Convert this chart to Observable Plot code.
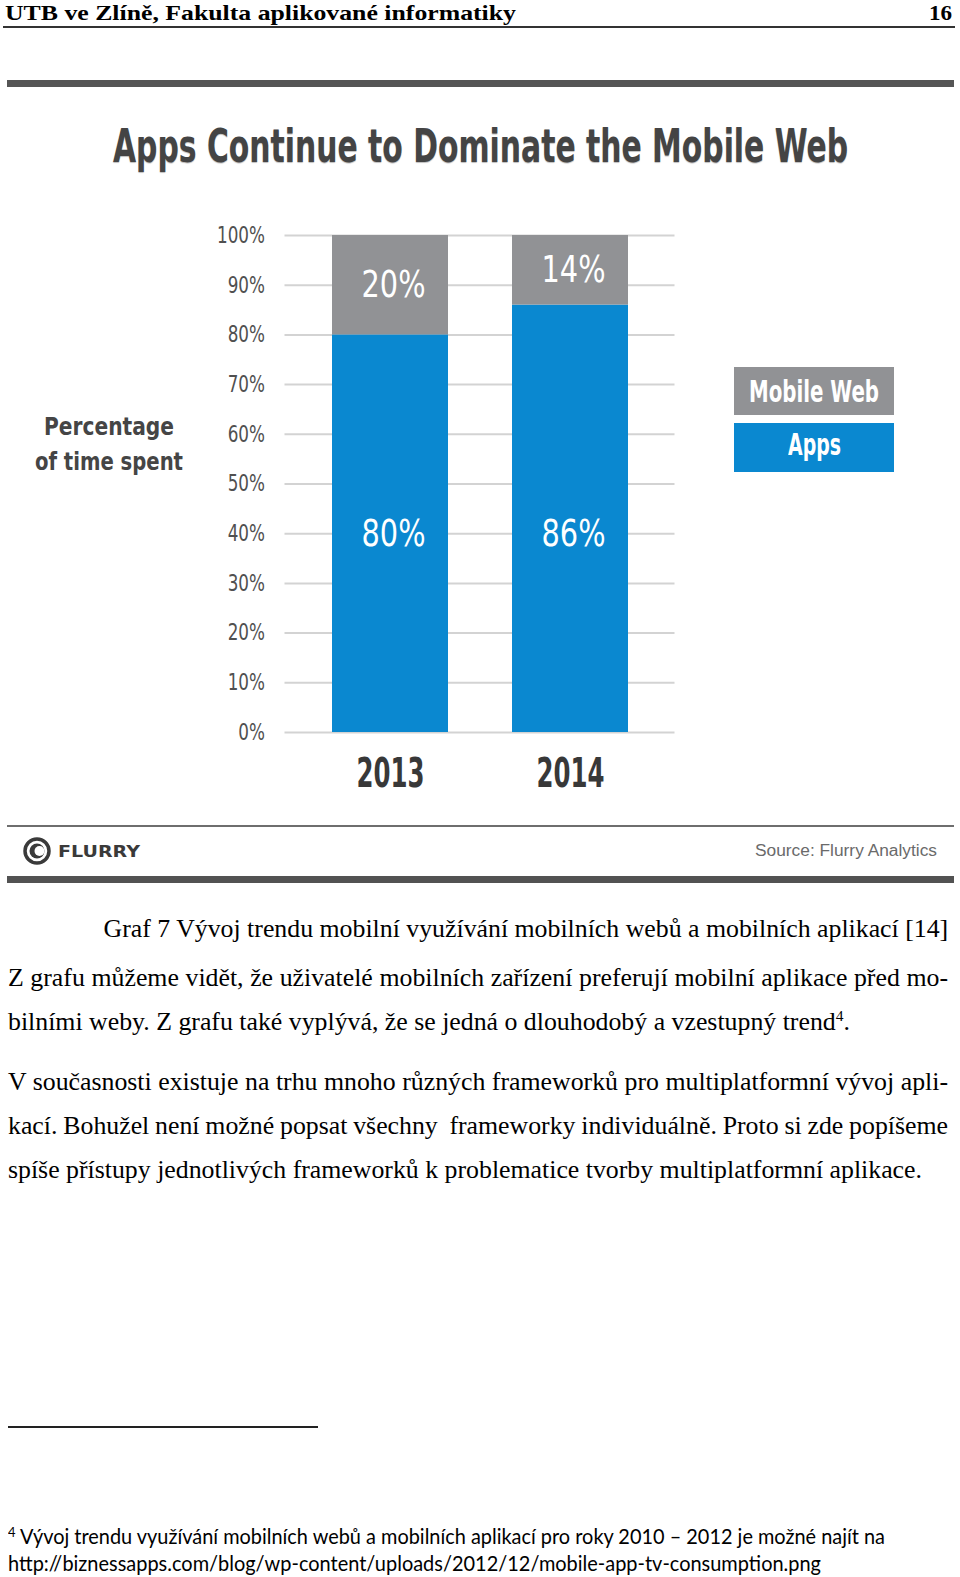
<!DOCTYPE html>
<html>
<head>
<meta charset="utf-8">
<script src="https://cdn.jsdelivr.net/npm/d3@7"></script>
<script src="https://cdn.jsdelivr.net/npm/@observablehq/plot@0.6"></script>
<style>
  html, body { margin: 0; padding: 0; background: #fff; }
  #page { position: relative; width: 960px; height: 1577px; overflow: hidden; background: #fff; }
  .bar { position: absolute; }
  #chart { position: absolute; left: 0; top: 190px; }
</style>
</head>
<body>
<div id="page"></div>
<script>
// ---------- data ----------
const years = ["2013", "2014"];
const series = ["Apps", "Mobile Web"];
const appsShare = [80, 86];
const webShare = [20, 14];
const yTicks = [0, 10, 20, 30, 40, 50, 60, 70, 80, 90, 100];
const seriesColors = ["#0a88d0", "#919295"];
const appsLabelAt = 40;

const chartTitle = "Apps Continue to Dominate the Mobile Web";
const yTitle = ["Percentage", "of time spent"];
const sourceText = "Source: Flurry Analytics";

// ---------- helpers ----------
const page = document.getElementById("page");

function place(o) {
  const el = document.createElement("div");
  el.style.cssText = `position:absolute;white-space:nowrap;line-height:1;left:0;top:0;` +
    `font-family:${o.font};font-size:${o.size}px;font-weight:${o.weight || 400};color:${o.color || "#000"};` +
    (o.extra || "");
  el.innerHTML = o.html + '<i style="display:inline-block;width:0;height:0;vertical-align:baseline"></i>';
  page.appendChild(el);
  const marker = el.lastChild;
  const base = marker.offsetTop;
  const w = el.getBoundingClientRect().width;
  let finalW = w;
  if (o.justify) {
    const n = (el.textContent.match(/[ \u00a0]/g) || []).length;
    if (n > 0) el.style.wordSpacing = ((o.width - w) / n) + "px";
    finalW = o.width;
  } else if (o.width) {
    el.style.transformOrigin = "0 0";
    el.style.transform = `scaleX(${o.width / w})`;
    finalW = o.width;
  }
  const left = o.left != null ? o.left : (o.right != null ? o.right - finalW : o.center - finalW / 2);
  el.style.left = left + "px";
  el.style.top = Math.max(0, o.baseline - base) + "px";
  return { el, w };
}
function rule(left, top, width, height, color) {
  const d = document.createElement("div");
  d.className = "bar";
  d.style.cssText = `left:${left}px;top:${top}px;width:${width}px;height:${height}px;background:${color};`;
  page.appendChild(d);
  return d;
}

// ---------- page header ----------
const serif = "'Liberation Serif', 'Times New Roman', serif";
place({ html: "UTB ve Zlíně, Fakulta aplikované informatiky", font: serif, size: 22, weight: 700, left: 5, baseline: 20, width: 511 });
place({ html: "16", font: serif, size: 22, weight: 700, right: 952, baseline: 20, width: 23 });
rule(3, 26, 952, 1.5, "#333");

// ---------- chart frame ----------
rule(7, 80, 947, 7, "#555");
const cond = "'DejaVu Sans Condensed', 'DejaVu Sans', sans-serif";
place({ html: chartTitle, font: cond, size: 46, weight: 700, color: "#444", left: 112.6, baseline: 162, width: 735,
        extra: "text-shadow:0 1px 1px rgba(0,0,0,0.25);" });

// y title
place({ html: yTitle[0], font: cond, size: 25, weight: 700, color: "#454545", center: 108.5, baseline: 435, width: 130 });
place({ html: yTitle[1], font: cond, size: 25, weight: 700, color: "#454545", center: 109, baseline: 470, width: 148 });

// ---------- Plot chart ----------
const rows = [];
years.forEach((yr, i) => {
  rows.push({ year: yr, series: series[0], value: appsShare[i] });
  rows.push({ year: yr, series: series[1], value: webShare[i] });
});
const valueLabels = [];
years.forEach((yr, i) => {
  valueLabels.push({ year: yr, y: appsLabelAt, text: appsShare[i] + "%" });
  valueLabels.push({ year: yr, y: appsShare[i] + webShare[i] / 2, text: webShare[i] + "%" });
});

const chart = Plot.plot({
  width: 960,
  height: 620,
  marginTop: 45,
  marginBottom: 78,
  marginLeft: 284.5,
  marginRight: 285.5,
  style: { fontFamily: "DejaVu Sans Condensed", color: "#555", background: "transparent", overflow: "visible" },
  x: { domain: years, paddingInner: 0.3556, paddingOuter: 0.2611, align: 0.5, axis: null, label: null },
  y: { domain: [0, 100], axis: null, label: null },
  color: { domain: series, range: seriesColors },
  marks: [
    Plot.ruleY(yTicks, { stroke: "#d3d3d3", strokeWidth: 2 }),
    Plot.barY(rows, { x: "year", y: "value", fill: "series" }),
    Plot.axisY(yTicks, { tickSize: 0, tickPadding: 20, tickFormat: d => d + "%", fontSize: 23, fill: "#505050", label: null }),
    Plot.axisX({ tickSize: 0, tickPadding: 25, fontSize: 41, fontWeight: "bold", fill: "#383838", label: null }),
    Plot.text(valueLabels, { x: "year", y: "y", text: "text", fill: "white", fontSize: 38, dx: 3 })
  ]
});
chart.id = "chart";
page.appendChild(chart);

function squeezeTexts(texts, sampleText, targetW) {
  if (!texts.length) return;
  const sample = texts.find(t => t.textContent === sampleText) || texts[0];
  const k = targetW / sample.getBBox().width;
  texts.forEach(t => {
    const x = +(t.getAttribute("x") || 0);
    const tr = t.getAttribute("transform") || "";
    t.setAttribute("transform", `${tr} translate(${x},0) scale(${k},1) translate(${-x},0)`);
  });
}
function textsIn(label) {
  const g = chart.querySelector(`g[aria-label="${label}"]`);
  return g ? [...g.querySelectorAll("text")] : [];
}
squeezeTexts(textsIn("y-axis tick label"), "100%", 48);
squeezeTexts(textsIn("x-axis tick label"), "2013", 68);
const whiteTexts = [...chart.querySelectorAll("text")].filter(t => getComputedStyle(t).fill === "rgb(255, 255, 255)");
squeezeTexts(whiteTexts, "20%", 64);

// ---------- legend ----------
const legendBoxes = [[367, 415], [423, 472]];
series.slice().reverse().forEach((s, i) => {
  const [t, b] = legendBoxes[i];
  rule(734, t, 160, b - t, seriesColors[series.indexOf(s)]);
});
place({ html: series[1], font: cond, size: 30, weight: 700, color: "#fff", center: 813.5, baseline: 401.5, width: 130 });
place({ html: series[0], font: cond, size: 30, weight: 700, color: "#fff", center: 814, baseline: 455, width: 53 });

// ---------- chart footer ----------
rule(7, 825, 947, 2, "#6e6e6e");
const logo = document.createElementNS("http://www.w3.org/2000/svg", "svg");
logo.setAttribute("width", 40); logo.setAttribute("height", 40);
logo.style.cssText = "position:absolute;left:17px;top:831px;";
logo.innerHTML = '<circle cx="20" cy="20" r="12" fill="none" stroke="#3a3a3a" stroke-width="3.5"/>' +
  '<circle cx="20" cy="20" r="7.5" fill="#3a3a3a"/>' +
  '<circle cx="22.5" cy="20" r="5" fill="#fff"/>';
page.appendChild(logo);
place({ html: "FLURRY", font: "'DejaVu Sans', sans-serif", size: 15, weight: 700, color: "#3a3a3a", left: 58, baseline: 857, width: 82 });
place({ html: sourceText, font: "'Liberation Sans', Arial, sans-serif", size: 16, color: "#6a6a6a", right: 937, baseline: 856, width: 182 });
rule(7, 876, 947, 7, "#525252");

// ---------- body text ----------
const captionText = "Graf 7 Vývoj trendu mobilní využívání mobilních webů a mobilních aplikací [14]";
const probe = place({ html: captionText, font: serif, size: 25, left: -2000, baseline: 0 });
const bodySize = 25 * 845 / probe.w;
probe.el.remove();
place({ html: captionText, font: serif, size: bodySize, left: 103.5, baseline: 936.5 });

const para1 = [
  "Z grafu můžeme vidět, že uživatelé mobilních zařízení preferují mobilní aplikace před mo-",
  "bilními weby. Z grafu také vyplývá, že se jedná o dlouhodobý a vzestupný trend<sup style=\"font-size:0.6em;vertical-align:0.55em;line-height:0\">4</sup>."
];
const para2 = [
  "V současnosti existuje na trhu mnoho různých frameworků pro multiplatformní vývoj apli-",
  "kací. Bohužel není možné popsat všechny &nbsp;frameworky individuálně. Proto si zde popíšeme",
  "spíše přístupy jednotlivých frameworků k problematice tvorby multiplatformní aplikace."
];
place({ html: para1[0], font: serif, size: bodySize, left: 8, baseline: 985.5, width: 940, justify: true });
place({ html: para1[1], font: serif, size: bodySize, left: 8, baseline: 1030 });
place({ html: para2[0], font: serif, size: bodySize, left: 8, baseline: 1089.5, width: 940, justify: true });
place({ html: para2[1], font: serif, size: bodySize, left: 8, baseline: 1133.5, width: 940, justify: true });
place({ html: para2[2], font: serif, size: bodySize, left: 8, baseline: 1177.5 });

// ---------- footnote ----------
rule(8, 1426, 310, 1.5, "#222");
const fnFont = "Lato, 'Open Sans', sans-serif";
place({ html: "<sup style=\"font-size:0.65em;vertical-align:0.5em;line-height:0\">4</sup> Vývoj trendu využívání mobilních webů a mobilních aplikací pro roky 2010 – 2012 je možné najít na",
        font: fnFont, size: 21.5, left: 8, baseline: 1544, width: 877 });
place({ html: "http://biznessapps.com/blog/wp-content/uploads/2012/12/mobile-app-tv-consumption.png",
        font: fnFont, size: 21.5, left: 8, baseline: 1571, width: 813 });
</script>
</body>
</html>
